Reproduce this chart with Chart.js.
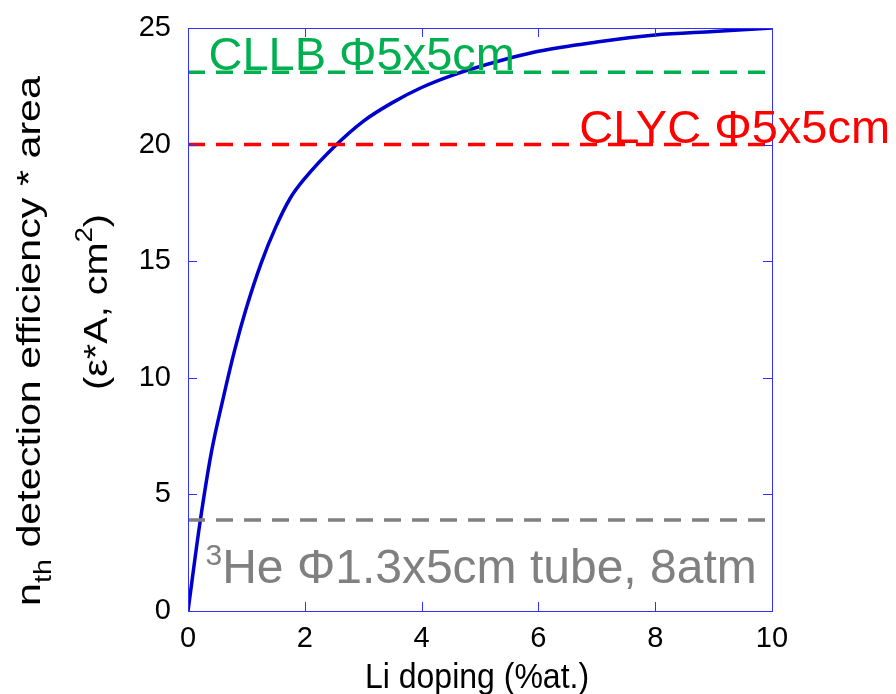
<!DOCTYPE html>
<html>
<head>
<meta charset="utf-8">
<script src="https://cdn.jsdelivr.net/npm/chart.js@4.4.0/dist/chart.umd.min.js"></script>
<style>
  html, body { margin: 0; padding: 0; background: #fff; }
  #wrap { width: 896px; height: 694px; }
</style>
</head>
<body>
<div id="wrap"><canvas id="effChart" width="896" height="694"></canvas></div>
<script>
// Li doping (%at.) vs thermal-neutron efficiency * area
const liDoping = [0, 0.2, 0.4, 0.6, 0.8, 1.0, 1.25, 1.5, 1.75, 2.0, 2.5, 3.0, 3.5, 4.0, 4.5, 5.0, 6.0, 7.0, 8.0, 9.0, 10.0];
const effArea  = [0, 3.7, 6.8, 9.1, 11.2, 13.0, 14.9, 16.45, 17.7, 18.55, 19.9, 21.0, 21.8, 22.45, 22.95, 23.35, 24.0, 24.4, 24.7, 24.85, 25.0];

// reference detectors (constant lines)
const refLineX = [0, 10];
const cllbLevel = [23.1, 23.1];
const clycLevel = [20.0, 20.0];
const he3Level  = [3.9, 3.9];

const xTicks = [0, 2, 4, 6, 8, 10];
const yTicks = [0, 5, 10, 15, 20, 25];

const FONT = 'Arial, "Liberation Sans", sans-serif';

const toPoints = (xs, ys) => xs.map((x, i) => ({ x: x, y: ys[i] }));

const refLine = (ys, color) => ({
    data: toPoints(refLineX, ys),
    borderColor: color,
    borderWidth: 3.5,
    borderDash: [17, 11],
    pointRadius: 0,
    fill: false
});

const framePlugin = {
    id: 'frame',
    afterDraw(chart) {
        const ctx = chart.ctx;
        const a = chart.chartArea;
        const xs = chart.scales.x, ys = chart.scales.y;
        ctx.save();
        // box
        ctx.strokeStyle = '#3030ff';
        ctx.lineWidth = 1;
        ctx.strokeRect(a.left + 0.5, a.top + 0.5, a.right - a.left, a.bottom - a.top);
        // inward ticks on all sides
        const tl = 9;
        ctx.beginPath();
        xTicks.forEach(v => {
            const px = Math.round(xs.getPixelForValue(v)) + 0.5;
            ctx.moveTo(px, a.bottom); ctx.lineTo(px, a.bottom - tl);
            ctx.moveTo(px, a.top); ctx.lineTo(px, a.top + tl);
        });
        yTicks.forEach(v => {
            const py = Math.round(ys.getPixelForValue(v)) + 0.5;
            ctx.moveTo(a.left, py); ctx.lineTo(a.left + tl, py);
            ctx.moveTo(a.right, py); ctx.lineTo(a.right - tl, py);
        });
        ctx.stroke();

        // labels on the reference lines
        ctx.textBaseline = 'alphabetic';
        ctx.textAlign = 'left';
        ctx.font = '47px ' + FONT;
        ctx.fillStyle = '#00b050';
        ctx.fillText('CLLB \u03A65x5cm', xs.getPixelForValue(0.35), ys.getPixelForValue(cllbLevel[0]) - 2);
        ctx.fillStyle = '#ff0000';
        ctx.fillText('CLYC \u03A65x5cm', xs.getPixelForValue(6.7), ys.getPixelForValue(clycLevel[0]) - 2);

        ctx.fillStyle = '#808080';
        let gx = xs.getPixelForValue(0.3);
        const gy = ys.getPixelForValue(he3Level[0]) + 63;
        ctx.font = '30px ' + FONT;
        ctx.fillText('3', gx, gy - 18);
        gx += ctx.measureText('3').width;
        ctx.font = '48px ' + FONT;
        ctx.fillText('He \u03A61.3x5cm tube, 8atm', gx, gy);

        // axis titles
        ctx.fillStyle = '#000';
        ctx.textAlign = 'center';
        ctx.save();
        ctx.translate(477, 688);
        ctx.scale(1, 1.12);
        ctx.font = '32px ' + FONT;
        ctx.fillText('Li doping (%at.)', 0, 0);
        ctx.restore();

        ctx.textAlign = 'left';
        ctx.save();
        ctx.translate(40, 606);
        ctx.rotate(-Math.PI / 2);
        ctx.scale(1.25, 1);
        ctx.font = '33px ' + FONT;
        ctx.fillText('n', 0, 0);
        let w = ctx.measureText('n').width;
        ctx.font = '23px ' + FONT;
        ctx.fillText('th', w, 11);
        w += ctx.measureText('th').width;
        ctx.font = '33px ' + FONT;
        ctx.fillText(' detection efficiency * area', w, 0);
        ctx.restore();

        ctx.save();
        ctx.translate(107, 390);
        ctx.rotate(-Math.PI / 2);
        ctx.scale(1.2, 1);
        ctx.font = '33px ' + FONT;
        ctx.fillText('(\u03B5*A, cm', 0, 0);
        w = ctx.measureText('(\u03B5*A, cm').width;
        ctx.font = '23px ' + FONT;
        ctx.fillText('2', w, -15);
        w += ctx.measureText('2').width;
        ctx.font = '33px ' + FONT;
        ctx.fillText(')', w, 0);
        ctx.restore();

        ctx.restore();
    }
};

const ctx = document.getElementById('effChart').getContext('2d');
new Chart(ctx, {
    type: 'line',
    data: {
        datasets: [
            refLine(cllbLevel, '#00b050'),
            refLine(clycLevel, '#ff0000'),
            refLine(he3Level, '#808080'),
            {
                data: toPoints(liDoping, effArea),
                borderColor: '#0000cc',
                borderWidth: 3.5,
                pointRadius: 0,
                cubicInterpolationMode: 'monotone',
                fill: false
            }
        ]
    },
    options: {
        responsive: false,
        animation: false,
        events: [],
        layout: { padding: { top: 28, right: 124, left: 0, bottom: 0 } },
        plugins: { legend: { display: false }, tooltip: { enabled: false } },
        scales: {
            x: {
                type: 'linear',
                min: 0, max: 10,
                afterFit: s => { s.height = 83; },
                afterBuildTicks: s => { s.ticks = xTicks.map(v => ({ value: v })); },
                grid: { display: false },
                border: { display: false },
                ticks: { color: '#000', padding: 3, maxRotation: 0, font: { family: FONT, size: 29 } }
            },
            y: {
                min: 0, max: 25,
                afterFit: s => { s.width = 188; },
                afterBuildTicks: s => { s.ticks = yTicks.map(v => ({ value: v })); },
                grid: { display: false },
                border: { display: false },
                ticks: { color: '#000', padding: 9, font: { family: FONT, size: 29 } }
            }
        }
    },
    plugins: [framePlugin]
});
</script>
</body>
</html>
